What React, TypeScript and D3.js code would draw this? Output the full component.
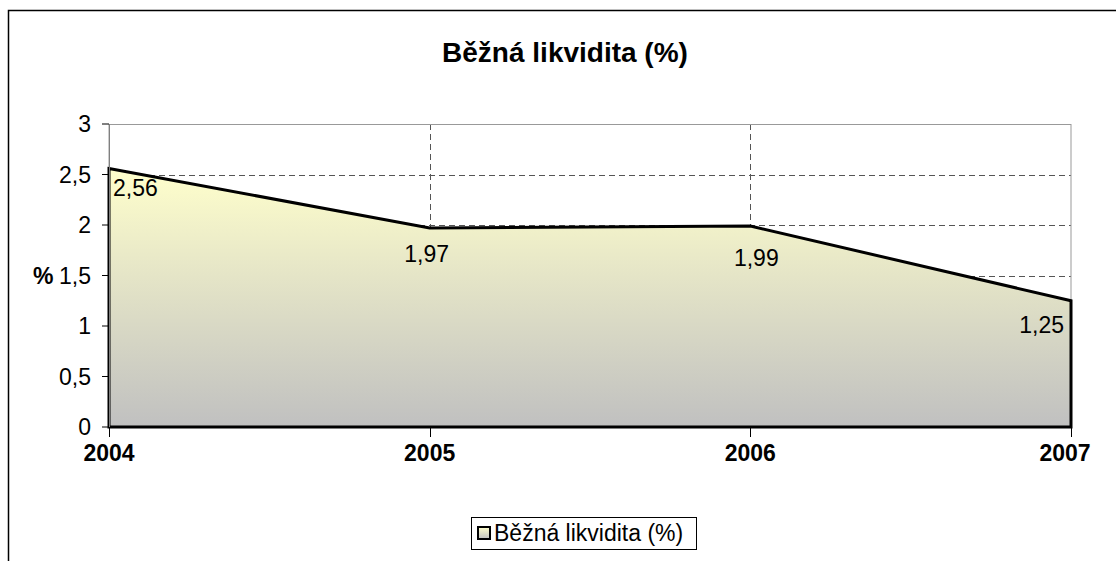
import React from 'react';
import * as d3 from 'd3';

const years = ['2004', '2005', '2006', '2007'];
const values = [2.56, 1.97, 1.99, 1.25];
const labels = ['2,56', '1,97', '1,99', '1,25'];
const yTicks = [0, 0.5, 1, 1.5, 2, 2.5, 3];
const yTickLabels = ['0', '0,5', '1', '1,5', '2', '2,5', '3'];

const title = 'Běžná likvidita (%)';
const seriesName = 'Běžná likvidita (%)';

export default function App() {
  const W = 1116;
  const H = 561;
  const margin = { top: 124, right: 45, bottom: 134, left: 109 };
  const plotW = W - margin.left - margin.right;
  const plotH = H - margin.top - margin.bottom;

  const x = d3
    .scalePoint<string>()
    .domain(years)
    .range([margin.left, margin.left + plotW]);

  const y = d3
    .scaleLinear()
    .domain([0, 3])
    .range([margin.top + plotH, margin.top]);

  const data = years.map((yr, i) => ({ yr, v: values[i], label: labels[i] }));

  const area = d3
    .area<{ yr: string; v: number }>()
    .x((d) => x(d.yr) as number)
    .y0(y(0))
    .y1((d) => y(d.v));

  const font = 'Arial, "Liberation Sans", sans-serif';
  const x0 = margin.left;
  const x1 = margin.left + plotW;

  // label placement, Excel-like: below each point
  const labelPos = (i: number) => {
    const px = x(years[i]) as number;
    const py = y(values[i]);
    if (i === 0) return { x: px + 4, y: py + 28, anchor: 'start' };
    if (i === years.length - 1) return { x: px - 7, y: py + 32, anchor: 'end' };
    if (i === 2) return { x: px + 6, y: py + 40, anchor: 'middle' };
    return { x: px - 3, y: py + 34, anchor: 'middle' };
  };

  return (
    <svg
      width={W}
      height={H}
      style={{ position: 'absolute', left: 0, top: 0, fontFamily: font }}
    >
      <defs>
        <linearGradient id="fillGrad" x1="0" y1="0" x2="0" y2="1">
          <stop offset="0%" stopColor="#FFFFCC" />
          <stop offset="100%" stopColor="#C0C0C0" />
        </linearGradient>
      </defs>
      <rect x={0} y={0} width={W} height={H} fill="#fff" />
      <rect x={8.5} y={10.5} width={W + 20} height={H + 20} fill="none" stroke="#000" strokeWidth={1.5} />

      <text x={565} y={62} textAnchor="middle" fontSize={28} fontWeight="bold">
        {title}
      </text>

      {/* gridlines */}
      {yTicks
        .filter((t) => t > 0 && t < 3)
        .map((t) => (
          <line
            key={'h' + t}
            x1={x0}
            x2={x1}
            y1={Math.round(y(t)) + 0.5}
            y2={Math.round(y(t)) + 0.5}
            stroke="#555"
            strokeDasharray="6,4"
          />
        ))}
      {years.slice(1, -1).map((yr) => (
        <line
          key={'v' + yr}
          x1={Math.round(x(yr) as number) + 0.5}
          x2={Math.round(x(yr) as number) + 0.5}
          y1={y(3)}
          y2={y(0)}
          stroke="#555"
          strokeDasharray="6,4"
        />
      ))}
      {/* plot area border */}
      <rect x={x0} y={Math.round(y(3)) + 0.5} width={plotW} height={plotH} fill="none" stroke="#999" strokeWidth={1} />

      <path d={area(data) as string} fill="url(#fillGrad)" stroke="#000" strokeWidth={3} strokeLinejoin="miter" />

      {/* y axis ticks */}
      {yTicks.map((t, i) => (
        <g key={'yt' + t}>
          <line x1={x0 - 7} x2={x0} y1={y(t)} y2={y(t)} stroke="#000" />
          <text x={91} y={y(t)} dy="0.35em" textAnchor="end" fontSize={23}>
            {yTickLabels[i]}
          </text>
        </g>
      ))}
      <line x1={x0 + 0.5} x2={x0 + 0.5} y1={y(0)} y2={y(3)} stroke="#808080" />
      <text x={33} y={y(1.5)} dy="0.35em" fontSize={23} fontWeight="bold">
        %
      </text>

      {/* x axis ticks */}
      {years.map((yr) => (
        <g key={'xt' + yr}>
          <line
            x1={Math.round(x(yr) as number) + 0.5}
            x2={Math.round(x(yr) as number) + 0.5}
            y1={y(0)}
            y2={y(0) + 10}
            stroke="#000"
          />
          <text
            x={(x(yr) as number) + (yr === years[years.length - 1] ? -6 : 0)}
            y={461}
            textAnchor="middle"
            fontSize={23}
            fontWeight="bold"
          >
            {yr}
          </text>
        </g>
      ))}

      {/* data labels */}
      {data.map((d, i) => {
        const p = labelPos(i);
        return (
          <text key={'l' + i} x={p.x} y={p.y} textAnchor={p.anchor as any} fontSize={23}>
            {d.label}
          </text>
        );
      })}

      {/* legend */}
      <rect x={471.5} y={517.5} width={225} height={32} fill="#fff" stroke="#000" />
      <rect x={478} y={527} width={12} height={12} fill="url(#fillGrad)" stroke="#000" strokeWidth={2} />
      <text x={494} y={541} fontSize={23}>
        {seriesName}
      </text>
    </svg>
  );
}
